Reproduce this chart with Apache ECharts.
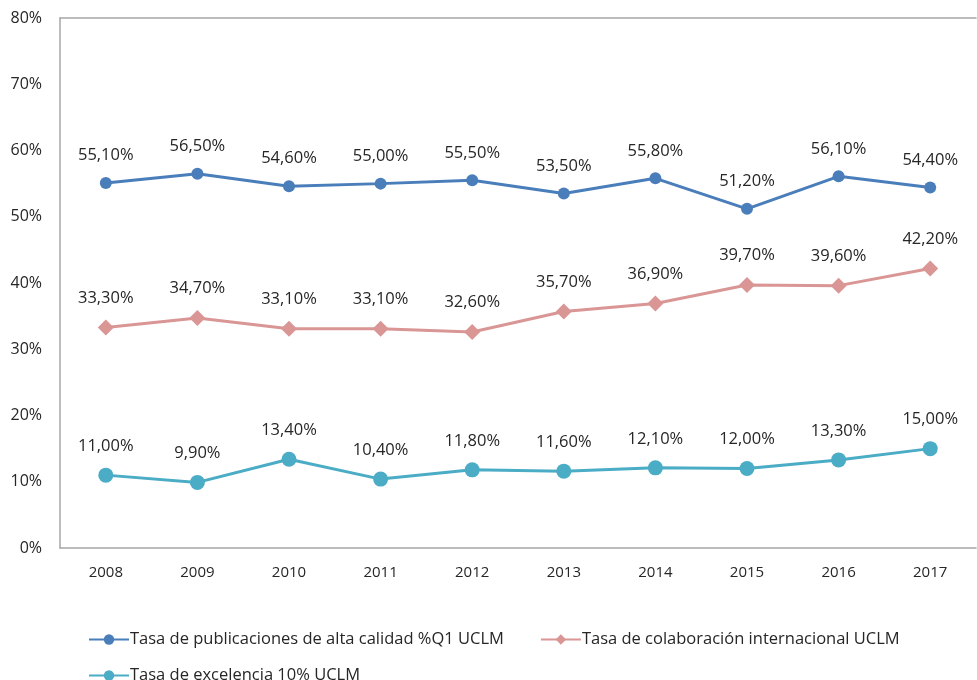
<!DOCTYPE html>
<html>
<head>
<meta charset="utf-8">
<script src="https://cdn.jsdelivr.net/npm/echarts@6/dist/echarts.min.js"></script>
<style>html,body{margin:0;padding:0;background:#fff;}#c{width:977px;height:680px;}</style>
</head>
<body>
<div id="c"></div>
<script>
const years = ['2008','2009','2010','2011','2012','2013','2014','2015','2016','2017'];
const seriesNames = ['Tasa de publicaciones de alta calidad %Q1 UCLM','Tasa de colaboración internacional UCLM','Tasa de excelencia 10% UCLM'];
const q1 = [55.1,56.5,54.6,55.0,55.5,53.5,55.8,51.2,56.1,54.4];
const colab = [33.3,34.7,33.1,33.1,32.6,35.7,36.9,39.7,39.6,42.2];
const excel = [11.0,9.9,13.4,10.4,11.8,11.6,12.1,12.0,13.3,15.0];
const yTicks = [0,10,20,30,40,50,60,70,80];

const FONT = '"Open Sans", sans-serif';
const fmt = v => v.toFixed(2).replace('.', ',') + '%';
function mk(name, data, color, symbol, size) {
  return {
    name, type: 'line', data, color,
    symbol, symbolSize: size,
    lineStyle: {width: 3, color},
    itemStyle: {color},
    label: {show: true, position: 'top', distance: 13, color: '#262626',
      fontFamily: FONT, fontSize: 16.5, formatter: p => fmt(p.value)},
    emphasis: {disabled: true},
    animation: false
  };
}
const chart = echarts.init(document.getElementById('c'), null, {renderer: 'canvas'});
chart.setOption({
  backgroundColor: '#fff',
  animation: false,
  grid: {left: 60, right: 1, top: 18, bottom: 132},
  xAxis: [{
    type: 'category', data: years, boundaryGap: true,
    axisLine: {lineStyle: {color: '#a6a6a6', width: 1.5}},
    axisTick: {show: false},
    axisLabel: {color: '#262626', fontFamily: FONT, fontSize: 15, margin: 17}
  }, {
    type: 'category', data: years, position: 'top',
    axisLine: {show: true, lineStyle: {color: '#a6a6a6', width: 1.5}},
    axisTick: {show: false}, axisLabel: {show: false}
  }],
  yAxis: {
    type: 'value', min: yTicks[0], max: yTicks[yTicks.length-1], interval: 10,
    axisLine: {show: true, lineStyle: {color: '#a6a6a6', width: 1.5}},
    axisTick: {show: false},
    splitLine: {show: false},
    axisLabel: {color: '#262626', fontFamily: FONT, fontSize: 16, margin: 18,
      formatter: v => v + '%'}
  },
  legend: [{
    data: [seriesNames[0], seriesNames[1]],
    left: 83, top: 626, itemWidth: 40, itemHeight: 13, itemGap: 36,
    textStyle: {color: '#262626', fontFamily: FONT, fontSize: 16.5, padding: [0,0,0,-4]},
    selectedMode: false
  }, {
    data: [seriesNames[2]],
    left: 83, top: 662, itemWidth: 40, itemHeight: 13,
    textStyle: {color: '#262626', fontFamily: FONT, fontSize: 16.5, padding: [0,0,0,-4]},
    selectedMode: false
  }],
  series: [
    mk(seriesNames[0], q1, '#4a7ebb', 'circle', 12),
    mk(seriesNames[1], colab, '#d99694', 'diamond', 16),
    mk(seriesNames[2], excel, '#4bacc6', 'circle', 15)
  ]
});
</script>
</body>
</html>
